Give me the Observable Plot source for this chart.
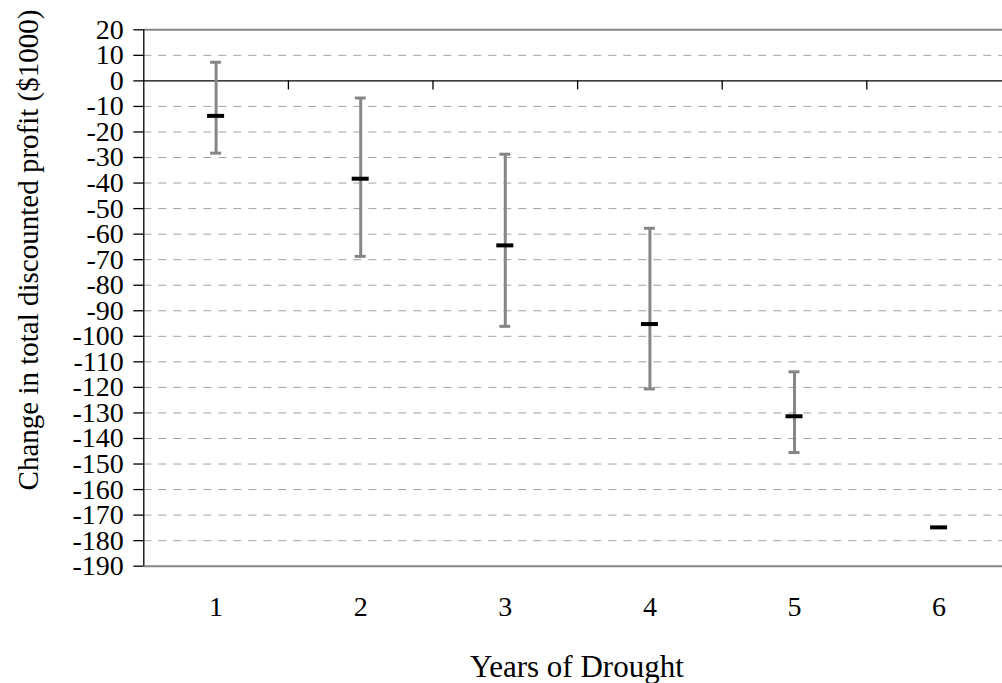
<!DOCTYPE html>
<html>
<head>
<meta charset="utf-8">
<script src="https://cdn.jsdelivr.net/npm/d3@7"></script>
<script src="https://cdn.jsdelivr.net/npm/@observablehq/plot@0.6"></script>
<style>
  html, body { margin: 0; padding: 0; background: #fff; overflow: hidden; }
</style>
</head>
<body>
<div id="chart"></div>
<script>
// Years of drought and the change in total discounted profit ($1000):
// mean estimate plus the low / high ends of the range for each year.
const years = [1, 2, 3, 4, 5, 6];
const meanChange = [-13.7, -38.3, -64.4, -95.2, -131.3, -174.8];
const lowChange = [-28.3, -68.7, -96.1, -120.6, -145.5, null];
const highChange = [7.3, -6.7, -28.7, -57.7, -113.9, null];
const yTicks = d3.range(-190, 21, 10);
const xTitle = "Years of Drought";
const yTitle = "Change in total discounted profit ($1000)";

const rows = years.map((year, i) => ({year, mean: meanChange[i], low: lowChange[i], high: highChange[i]}));
const ranged = rows.filter(d => d.low != null && d.high != null);
const gridValues = yTicks.filter(v => v !== 0 && v !== 20 && v !== -190);
const bandEdges = years.map(y => y + 0.5);

// Frame geometry (pixels)
const W = 1002, H = 683;
const frameLeft = 143.3, frameTop = 29.3, frameBottom = 565.7, bandWidth = 144.6;
const serif = "'Liberation Serif', 'Times New Roman', Times, serif";
const barGray = "#868686";

const chart = Plot.plot({
  width: W,
  height: H,
  marginLeft: frameLeft,
  marginTop: frameTop,
  marginBottom: H - frameBottom,
  marginRight: 0,
  style: {fontFamily: serif, fontSize: "28px", color: "#000", background: "#fff"},
  x: {type: "linear", domain: [0.5, 6.5], range: [frameLeft, frameLeft + 6 * bandWidth]},
  y: {domain: [-190, 20], range: [frameBottom, frameTop]},
  marks: [
    // dashed horizontal gridlines
    Plot.ruleY(gridValues, {stroke: "#a3a3a3", strokeWidth: 1, strokeDasharray: "8,7"}),
    // top and bottom frame lines
    Plot.ruleY([20, -190], {stroke: barGray, strokeWidth: 2}),
    // zero line with category separators hanging below it
    Plot.ruleY([0], {stroke: "#000", strokeWidth: 1.3}),
    Plot.ruleX(bandEdges, {x: d => d, y1: 0, y2: 0, insetBottom: -9, stroke: "#000", strokeWidth: 1.3}),
    // vertical value axis line
    Plot.ruleX([0.5], {y1: -190, y2: 20, stroke: "#000", strokeWidth: 1.3}),
    Plot.axisY({ticks: yTicks, tickFormat: d => String(d), tickSize: 10, tickPadding: 10,
      fontSize: 28, fontFamily: serif, label: null, stroke: "#000", strokeWidth: 1.3}),
    Plot.axisX({ticks: years, tickFormat: d => String(d), tickSize: 0, tickPadding: 30,
      fontSize: 28, fontFamily: serif, label: null}),
    // error bars: whisker and caps
    Plot.ruleX(ranged, {x: "year", y1: "low", y2: "high", stroke: barGray, strokeWidth: 3}),
    Plot.ruleY(ranged, {y: "high", x1: "year", x2: "year", insetLeft: -5.5, insetRight: -5.5, stroke: barGray, strokeWidth: 3}),
    Plot.ruleY(ranged, {y: "low", x1: "year", x2: "year", insetLeft: -5.5, insetRight: -5.5, stroke: barGray, strokeWidth: 3}),
    // mean markers
    Plot.ruleY(rows, {y: "mean", x1: "year", x2: "year", insetLeft: -8.5, insetRight: -8.5, stroke: "#000", strokeWidth: 4}),
    // axis titles
    Plot.text([yTitle], {text: d => d, frameAnchor: "left", rotate: -90, lineAnchor: "middle", textAnchor: "middle",
      dx: -115, dy: -48, fontSize: 29, fontFamily: serif}),
    Plot.text([xTitle], {text: d => d, frameAnchor: "bottom", lineAnchor: "middle", textAnchor: "middle",
      dx: 3.7, dy: 101.3, fontSize: 31, fontFamily: serif})
  ]
});

document.getElementById("chart").appendChild(chart);
</script>
</body>
</html>
